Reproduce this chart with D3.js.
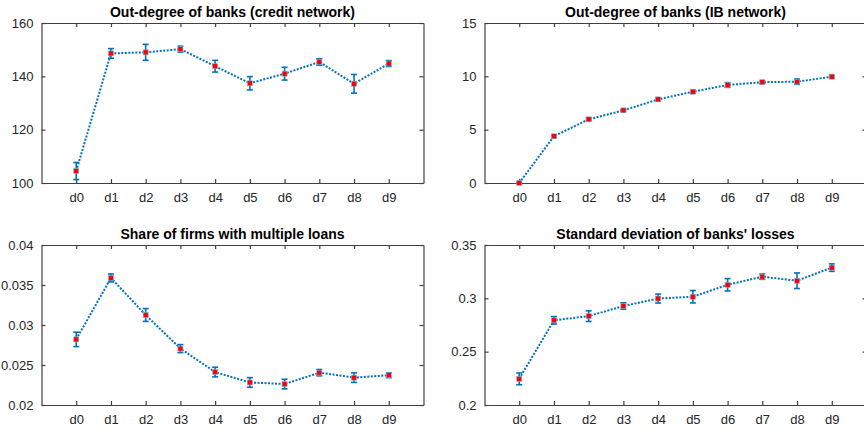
<!DOCTYPE html>
<html>
<head>
<meta charset="utf-8">
<script src="https://cdn.jsdelivr.net/npm/d3@7"></script>
<style>
  body { margin: 0; background: #fff; }
  svg { font-family: "Liberation Sans", Arial, sans-serif; }
  .axis path, .axis line { stroke: #404040; stroke-width: 1.2; }
  .axis text { fill: #262626; font-size: 13px; }
  .title { font-size: 14px; font-weight: bold; fill: #000; }
</style>
</head>
<body>
<div id="chart"></div>
<script>
// decile labels along the x axis
const categories = ['d0', 'd1', 'd2', 'd3', 'd4', 'd5', 'd6', 'd7', 'd8', 'd9'];

// out-degree of banks, credit network
const creditMean = [104.5, 148.6, 149.0, 150.2, 143.8, 137.4, 141.0, 145.4, 137.2, 144.8];
const creditErr  = [3.2, 1.8, 3.0, 1.1, 2.2, 2.5, 2.4, 1.2, 3.5, 1.1];
const creditTicks = [100, 120, 140, 160];

// out-degree of banks, interbank network
const ibMean = [0.0, 4.38, 5.97, 6.81, 7.84, 8.56, 9.19, 9.45, 9.5, 9.97];
const ibErr  = [0.05, 0.12, 0.12, 0.1, 0.12, 0.15, 0.22, 0.12, 0.25, 0.12];
const ibTicks = [0, 5, 10, 15];

// share of firms with multiple loans
const shareMean = [0.0282, 0.03588, 0.03125, 0.02705, 0.02412, 0.02282, 0.02262, 0.02404, 0.02342, 0.02372];
const shareErr  = [0.0009, 0.0005, 0.0008, 0.0005, 0.0006, 0.0006, 0.0006, 0.0004, 0.0006, 0.0003];
const shareTicks = [0.02, 0.025, 0.03, 0.035, 0.04];

// standard deviation of banks' losses
const lossMean = [0.2245, 0.2794, 0.2833, 0.2928, 0.2998, 0.3015, 0.3127, 0.3203, 0.3165, 0.3288];
const lossErr  = [0.0055, 0.0035, 0.005, 0.003, 0.0042, 0.0058, 0.0058, 0.0025, 0.0073, 0.0035];
const lossTicks = [0.2, 0.25, 0.3, 0.35];

const panels = [
  { title: 'Out-degree of banks (credit network)', mean: creditMean, err: creditErr, ticks: creditTicks, x: 41.5, y: 23 },
  { title: 'Out-degree of banks (IB network)', mean: ibMean, err: ibErr, ticks: ibTicks, x: 484.5, y: 23 },
  { title: 'Share of firms with multiple loans', mean: shareMean, err: shareErr, ticks: shareTicks, x: 41.5, y: 245 },
  { title: "Standard deviation of banks' losses", mean: lossMean, err: lossErr, ticks: lossTicks, x: 484.5, y: 245 }
];

const width = 864, height = 430;
const plotW = 382, plotH = 160;
const blue = '#0072BD';

const svg = d3.select('#chart').append('svg')
  .attr('width', width)
  .attr('height', height);

panels.forEach(p => {
  const g = svg.append('g').attr('transform', `translate(${p.x},${p.y})`);

  const x = d3.scaleLinear().domain([-1, 10]).range([0, plotW]);
  const y = d3.scaleLinear().domain(d3.extent(p.ticks)).range([plotH, 0]);
  const idx = d3.range(categories.length);

  // box with inward ticks on all four sides
  g.append('g').attr('class', 'axis')
    .attr('transform', `translate(0,${plotH})`)
    .call(d3.axisBottom(x).tickValues(idx).tickFormat(i => categories[i])
      .tickSizeInner(-4).tickSizeOuter(0).tickPadding(10));
  g.append('g').attr('class', 'axis')
    .call(d3.axisTop(x).tickValues(idx).tickFormat('')
      .tickSizeInner(-4).tickSizeOuter(0));
  g.append('g').attr('class', 'axis')
    .call(d3.axisLeft(y).tickValues(p.ticks).tickFormat(String)
      .tickSizeInner(-4).tickSizeOuter(0).tickPadding(8));
  g.append('g').attr('class', 'axis')
    .attr('transform', `translate(${plotW},0)`)
    .call(d3.axisRight(y).tickValues(p.ticks).tickFormat('')
      .tickSizeInner(-4).tickSizeOuter(0));

  g.append('text')
    .attr('class', 'title')
    .attr('x', plotW / 2)
    .attr('y', -6)
    .attr('text-anchor', 'middle')
    .text(p.title);

  // dotted line through the means
  const line = d3.line()
    .x(i => x(i))
    .y(i => y(p.mean[i]));
  g.append('path')
    .datum(idx)
    .attr('d', line)
    .attr('fill', 'none')
    .attr('stroke', blue)
    .attr('stroke-width', 2)
    .attr('stroke-dasharray', '2,1.5');

  // error bars
  const bars = g.append('g').selectAll('g')
    .data(idx)
    .enter().append('g')
    .attr('stroke', blue)
    .attr('stroke-width', 1.6);
  bars.append('line')
    .attr('x1', i => x(i)).attr('x2', i => x(i))
    .attr('y1', i => y(p.mean[i] - p.err[i]))
    .attr('y2', i => y(p.mean[i] + p.err[i]));
  bars.append('line')
    .attr('x1', i => x(i) - 3).attr('x2', i => x(i) + 3)
    .attr('y1', i => y(p.mean[i] - p.err[i]))
    .attr('y2', i => y(p.mean[i] - p.err[i]));
  bars.append('line')
    .attr('x1', i => x(i) - 3).attr('x2', i => x(i) + 3)
    .attr('y1', i => y(p.mean[i] + p.err[i]))
    .attr('y2', i => y(p.mean[i] + p.err[i]));

  // red square markers
  g.append('g').selectAll('rect')
    .data(idx)
    .enter().append('rect')
    .attr('x', i => x(i) - 2.5)
    .attr('y', i => y(p.mean[i]) - 2.5)
    .attr('width', 5)
    .attr('height', 5)
    .attr('fill', '#ff0000')
    .attr('stroke', '#7fb2dc')
    .attr('stroke-width', 0.6);
});
</script>
</body>
</html>
